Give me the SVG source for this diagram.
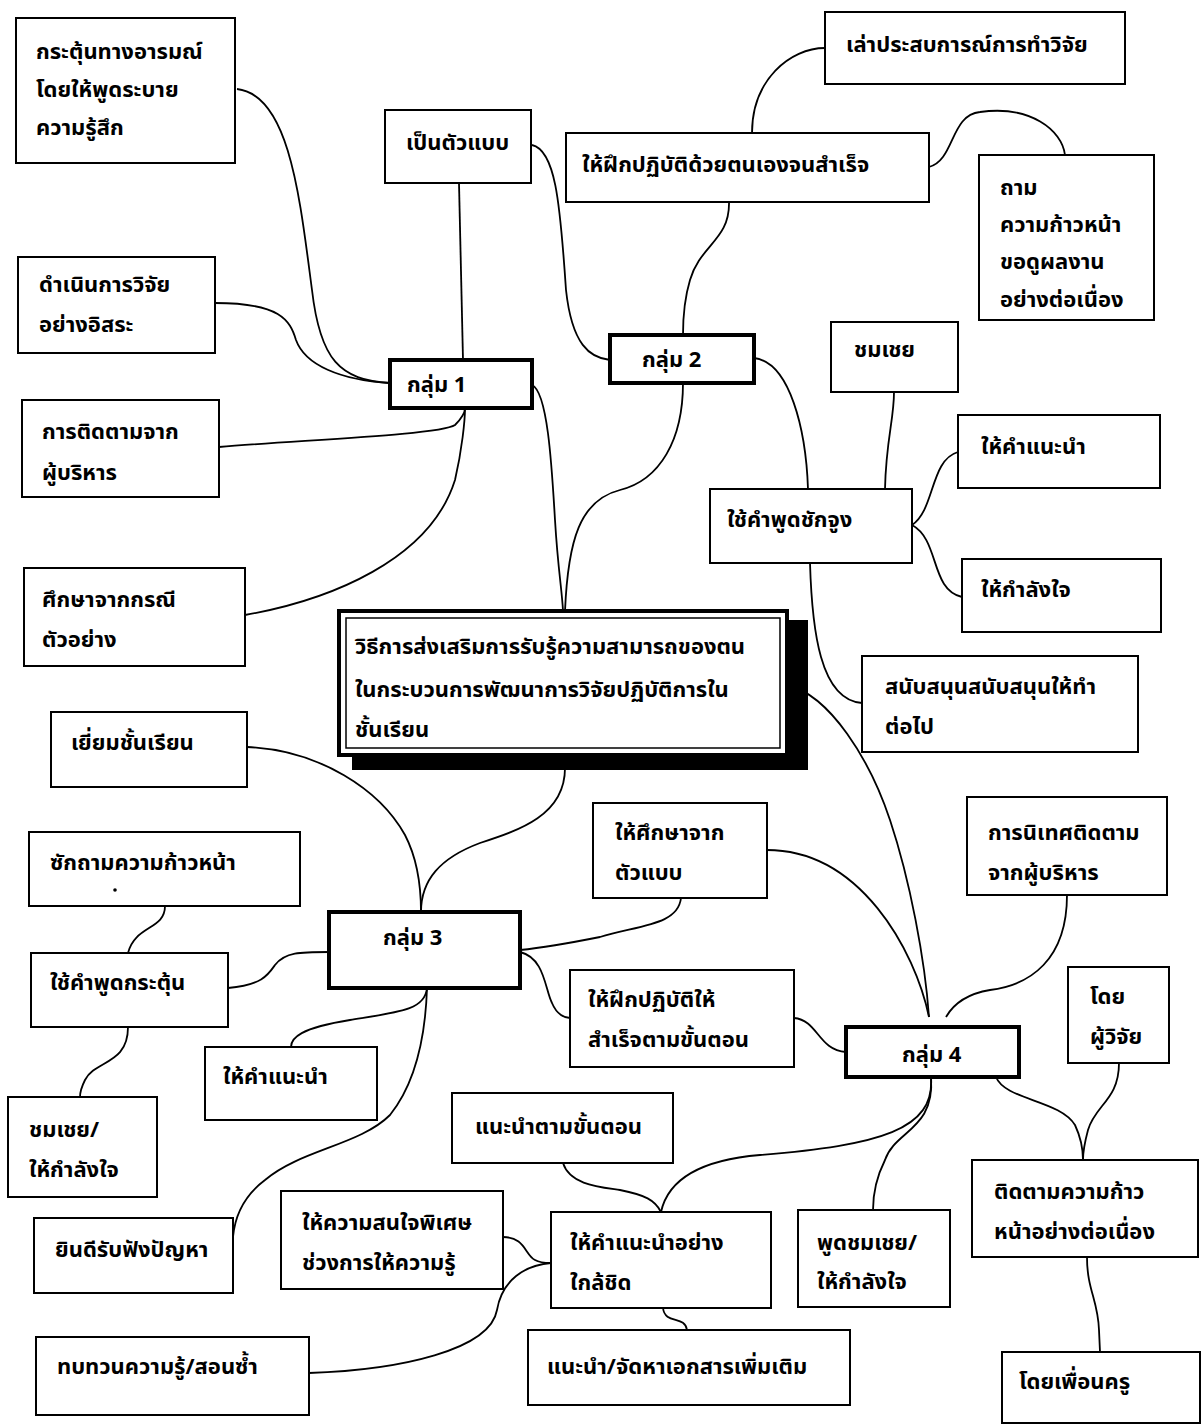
<svg xmlns="http://www.w3.org/2000/svg" width="1203" height="1424" viewBox="0 0 1203 1424">
<style>
.bg{fill:#fff}
.box{fill:#fff;stroke:#000;stroke-width:2}
.grp{fill:#fff;stroke:#000;stroke-width:4}
.c path{fill:none;stroke:#000;stroke-width:1.8}
text{font-family:"Noto Sans Thai","Liberation Sans","DejaVu Sans",sans-serif;font-size:22px;font-weight:bold;fill:#000}
</style>
<rect class="bg" x="0" y="0" width="1203" height="1424"/>
<g class="c" id="connectors">
<path d="M237,89 C290,95 300,200 312,290 C320,360 340,380 390,383"/>
<path d="M215,303 C280,303 290,320 296,340 C305,365 340,380 390,383"/>
<path d="M459,183 L463,360"/>
<path d="M219,447 C300,440 440,435 455,425 C462,418 465,412 465,408"/>
<path d="M245,615 C330,600 430,560 455,480 C462,450 465,420 465,408"/>
<path d="M532,145 C555,150 560,200 566,290 C572,345 590,358 610,360"/>
<path d="M532,385 C548,392 552,470 555,520 C558,570 562,590 563,611"/>
<path d="M683,383 C683,440 660,480 620,490 C580,500 568,540 565,611"/>
<path d="M752,133 C752,80 790,48 825,48"/>
<path d="M929,167 C955,160 950,115 980,112 C1030,105 1062,130 1065,155"/>
<path d="M729,202 C730,240 700,245 690,280 C684,300 683,320 683,335"/>
<path d="M754,358 C790,362 806,430 808,489"/>
<path d="M894,392 C894,420 886,440 885,489"/>
<path d="M912,525 C935,510 930,460 958,452"/>
<path d="M912,525 C940,540 930,590 962,597"/>
<path d="M810,563 C812,630 820,700 862,703"/>
<path d="M787,685 C830,695 870,760 890,820 C910,880 925,960 929,1017"/>
<path d="M767,850 C860,850 915,950 929,1017"/>
<path d="M1067,895 C1067,960 1030,985 990,990 C960,995 950,1010 946,1017"/>
<path d="M681,898 C678,925 640,925 600,937 C570,943 540,948 520,950"/>
<path d="M520,952 C545,958 545,990 552,1003 C557,1015 565,1018 570,1018"/>
<path d="M794,1018 C818,1020 818,1050 846,1052"/>
<path d="M565,768 C565,815 520,830 480,843 C440,858 421,880 421,912"/>
<path d="M247,747 C320,750 380,790 405,835 C418,860 421,890 421,912"/>
<path d="M165,906 C165,930 135,925 128,953"/>
<path d="M228,988 C262,985 268,975 275,965 C285,952 300,952 329,952"/>
<path d="M128,1027 C128,1065 95,1060 85,1080 C81,1088 80,1092 80,1097"/>
<path d="M427,988 C425,1010 400,1012 350,1020 C300,1028 291,1038 291,1047"/>
<path d="M427,988 C425,1050 410,1090 390,1115 C360,1145 300,1150 265,1180 C245,1195 235,1215 233,1237"/>
<path d="M931,1077 C935,1130 880,1145 760,1155 C700,1160 668,1180 661,1212"/>
<path d="M931,1077 C935,1130 895,1130 885,1160 C875,1180 873,1195 873,1210"/>
<path d="M563,1163 C570,1185 600,1187 620,1190 C645,1195 655,1200 661,1212"/>
<path d="M663,1308 C665,1325 685,1315 687,1330"/>
<path d="M503,1237 C525,1237 525,1255 535,1260 C540,1263 545,1263 551,1263"/>
<path d="M309,1373 C400,1370 490,1350 497,1310 C502,1280 525,1265 551,1263"/>
<path d="M996,1077 C1005,1100 1060,1100 1075,1125 C1082,1140 1083,1150 1083,1160"/>
<path d="M1119,1063 C1119,1100 1095,1105 1088,1130 C1084,1145 1083,1155 1083,1160"/>
<path d="M1087,1257 C1087,1290 1098,1300 1099,1330 L1100,1352"/>
</g>
<g id="center">
<rect x="352" y="620" width="456" height="150" fill="#000"/>
<rect x="339" y="611" width="448" height="144" fill="#fff" stroke="#000" stroke-width="4"/>
<rect x="346" y="618" width="434" height="130" fill="none" stroke="#000" stroke-width="1.5"/>
<text x="355" y="654">วิธีการส่งเสริมการรับรู้ความสามารถของตน</text>
<text x="355" y="697">ในกระบวนการพัฒนาการวิจัยปฏิบัติการใน</text>
<text x="355" y="737">ชั้นเรียน</text>
</g>
<g id="n1"><rect class="box" x="16" y="18" width="219" height="145"/><text x="36" y="59">กระตุ้นทางอารมณ์</text><text x="36" y="97">โดยให้พูดระบาย</text><text x="36" y="135">ความรู้สึก</text></g>
<g id="n2"><rect class="box" x="385" y="110" width="146" height="73"/><text x="406" y="150">เป็นตัวแบบ</text></g>
<g id="n3"><rect class="box" x="18" y="257" width="197" height="96"/><text x="39" y="292">ดำเนินการวิจัย</text><text x="39" y="332">อย่างอิสระ</text></g>
<g id="g1"><rect class="grp" x="390" y="360" width="142" height="48"/><text x="407" y="392">กลุ่ม 1</text></g>
<g id="n5"><rect class="box" x="22" y="400" width="197" height="97"/><text x="42" y="439">การติดตามจาก</text><text x="42" y="480">ผู้บริหาร</text></g>
<g id="n6"><rect class="box" x="24" y="568" width="221" height="98"/><text x="42" y="607">ศึกษาจากกรณี</text><text x="42" y="647">ตัวอย่าง</text></g>
<g id="n7"><rect class="box" x="51" y="712" width="196" height="75"/><text x="71" y="750">เยี่ยมชั้นเรียน</text></g>
<g id="n8"><rect class="box" x="825" y="12" width="300" height="72"/><text x="846" y="52">เล่าประสบการณ์การทำวิจัย</text></g>
<g id="n9"><rect class="box" x="566" y="133" width="363" height="69"/><text x="582" y="172">ให้ฝึกปฏิบัติด้วยตนเองจนสำเร็จ</text></g>
<g id="n10"><rect class="box" x="979" y="155" width="175" height="165"/><text x="1000" y="195">ถาม</text><text x="1000" y="232">ความก้าวหน้า</text><text x="1000" y="269">ขอดูผลงาน</text><text x="1000" y="307">อย่างต่อเนื่อง</text></g>
<g id="g2"><rect class="grp" x="610" y="335" width="144" height="48"/><text x="642" y="367">กลุ่ม 2</text></g>
<g id="n12"><rect class="box" x="831" y="322" width="127" height="70"/><text x="854" y="357">ชมเชย</text></g>
<g id="n13"><rect class="box" x="710" y="489" width="202" height="74"/><text x="727" y="527">ใช้คำพูดชักจูง</text></g>
<g id="n14"><rect class="box" x="958" y="415" width="202" height="73"/><text x="981" y="454">ให้คำแนะนำ</text></g>
<g id="n15"><rect class="box" x="962" y="559" width="199" height="73"/><text x="981" y="597">ให้กำลังใจ</text></g>
<g id="n16"><rect class="box" x="862" y="656" width="276" height="96"/><text x="885" y="694">สนับสนุนสนับสนุนให้ทำ</text><text x="885" y="734">ต่อไป</text></g>
<g id="n17"><rect class="box" x="29" y="832" width="271" height="74"/><text x="50" y="870">ซักถามความก้าวหน้า</text><circle cx="115" cy="890" r="1.8" fill="#000"/></g>
<g id="n18"><rect class="box" x="31" y="953" width="197" height="74"/><text x="50" y="990">ใช้คำพูดกระตุ้น</text></g>
<g id="g3"><rect class="grp" x="329" y="912" width="191" height="76"/><text x="383" y="945">กลุ่ม 3</text></g>
<g id="n20"><rect class="box" x="205" y="1047" width="172" height="73"/><text x="223" y="1084">ให้คำแนะนำ</text></g>
<g id="n21"><rect class="box" x="8" y="1097" width="149" height="100"/><text x="29" y="1137">ชมเชย/</text><text x="29" y="1177">ให้กำลังใจ</text></g>
<g id="n22"><rect class="box" x="34" y="1218" width="199" height="75"/><text x="55" y="1257">ยินดีรับฟังปัญหา</text></g>
<g id="n23"><rect class="box" x="281" y="1191" width="222" height="98"/><text x="302" y="1230">ให้ความสนใจพิเศษ</text><text x="302" y="1270">ช่วงการให้ความรู้</text></g>
<g id="n24"><rect class="box" x="36" y="1337" width="273" height="78"/><text x="57" y="1374">ทบทวนความรู้/สอนซ้ำ</text></g>
<g id="n25"><rect class="box" x="452" y="1093" width="221" height="70"/><text x="475" y="1134">แนะนำตามขั้นตอน</text></g>
<g id="n26"><rect class="box" x="551" y="1212" width="220" height="96"/><text x="570" y="1250">ให้คำแนะนำอย่าง</text><text x="570" y="1290">ใกล้ชิด</text></g>
<g id="n27"><rect class="box" x="528" y="1330" width="322" height="75"/><text x="547" y="1374">แนะนำ/จัดหาเอกสารเพิ่มเติม</text></g>
<g id="n28"><rect class="box" x="798" y="1210" width="152" height="97"/><text x="817" y="1250">พูดชมเชย/</text><text x="817" y="1289">ให้กำลังใจ</text></g>
<g id="n29"><rect class="box" x="972" y="1160" width="226" height="97"/><text x="994" y="1199">ติดตามความก้าว</text><text x="994" y="1239">หน้าอย่างต่อเนื่อง</text></g>
<g id="n30"><rect class="box" x="1002" y="1352" width="198" height="71"/><text x="1019" y="1389">โดยเพื่อนครู</text></g>
<g id="n31"><rect class="box" x="593" y="803" width="174" height="95"/><text x="615" y="840">ให้ศึกษาจาก</text><text x="615" y="880">ตัวแบบ</text></g>
<g id="n32"><rect class="box" x="967" y="797" width="200" height="98"/><text x="988" y="840">การนิเทศติดตาม</text><text x="988" y="880">จากผู้บริหาร</text></g>
<g id="n33"><rect class="box" x="570" y="970" width="224" height="97"/><text x="588" y="1007">ให้ฝึกปฏิบัติให้</text><text x="588" y="1047">สำเร็จตามขั้นตอน</text></g>
<g id="g4"><rect class="grp" x="846" y="1027" width="173" height="50"/><text x="902" y="1062">กลุ่ม 4</text></g>
<g id="n34"><rect class="box" x="1068" y="967" width="101" height="96"/><text x="1090" y="1004">โดย</text><text x="1090" y="1044">ผู้วิจัย</text></g>
</svg>
